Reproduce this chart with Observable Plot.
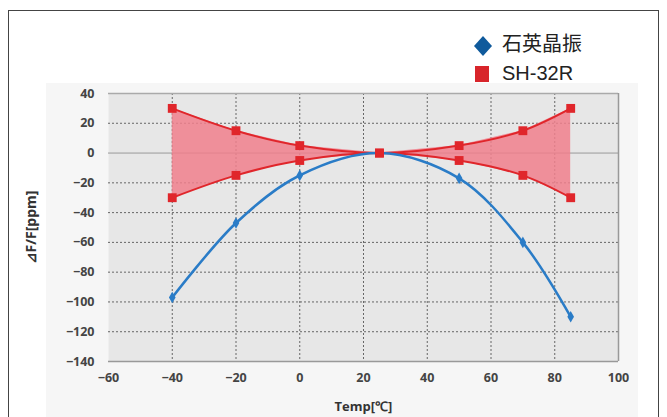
<!DOCTYPE html>
<html><head><meta charset="utf-8">
<script src="https://cdn.jsdelivr.net/npm/d3@7"></script>
<script src="https://cdn.jsdelivr.net/npm/@observablehq/plot@0.6"></script>
<style>
body{margin:0;background:#fff;}
#wrap{position:relative;width:667px;height:417px;overflow:hidden;}
#border{position:absolute;left:8px;top:10px;width:651px;height:430px;border:1.5px solid #444;box-sizing:border-box;}
#panel{position:absolute;left:46px;top:83px;width:592px;height:334px;background:#f6f6f6;}
#chart{position:absolute;left:0;top:0;}
.leg{position:absolute;font-size:20px;color:#222;line-height:1;}
</style></head>
<body>
<div id="wrap">
<div id="border"></div>
<div id="panel"></div>
<div id="chart"></div>
<svg style="position:absolute;left:472px;top:35px" width="22" height="22"><path d="M11 1 L20 11 L11 21 L2 11 Z" fill="#0f5a9c"/></svg>
<div class="leg" style="left:502px;top:33px;font-family:'Noto Sans CJK SC';">石英晶振</div>
<div style="position:absolute;left:475px;top:66px;width:14px;height:16px;background:#d8252b"></div>
<div class="leg" style="left:502px;top:63px;font-family:'Liberation Sans',Arial;">SH-32R</div>
</div>
<script>
const temps = [-40, -20, 0, 25, 50, 70, 85];
const shUpper = [30, 15, 5, 0, 5, 15, 30];
const shLower = [-30, -15, -5, 0, -5, -15, -30];
const quartz = [-97, -47, -15, 0, -17, -60, -110];
const xTicks = [-60, -40, -20, 0, 20, 40, 60, 80, 100];
const yTicks = [40, 20, 0, -20, -40, -60, -80, -100, -120, -140];

const sh = temps.map((t, i) => ({t, hi: shUpper[i], lo: shLower[i]}));
const qz = temps.map((t, i) => ({t, v: quartz[i]}));
const qzMarkers = qz.filter(d => d.t !== 25);

const red = "#e0262b", blue = "#2a7cc7";
const chart = Plot.plot({
  width: 667, height: 417,
  marginLeft: 108, marginRight: 49, marginTop: 93, marginBottom: 56,
  style: {background: "transparent", fontFamily: "'Open Sans', sans-serif", fontSize: "12.5px", fontWeight: "bold", color: "#444"},
  x: {domain: [-60, 100], ticks: xTicks, tickSize: 0, tickPadding: 12, label: null},
  y: {domain: [-140, 40], ticks: yTicks, tickSize: 0, tickPadding: 14, label: null},
  marks: [
    Plot.frame({fill: "#e7e7e7", stroke: "none"}),
    Plot.ruleY(yTicks.filter(d => d !== 0 && d !== -140 && d !== 40), {stroke: "#666", strokeDasharray: "2,2", strokeWidth: 1}),
    Plot.ruleX(xTicks.filter(d => d !== -60 && d !== 100), {stroke: "#666", strokeDasharray: "2,2", strokeWidth: 1}),
    Plot.ruleY([0], {stroke: "#999", strokeWidth: 1}),
    Plot.ruleY([40], {stroke: "#aaa", strokeWidth: 1.5}),
    Plot.ruleY([-140], {stroke: "#999", strokeWidth: 1.5}),
    Plot.ruleX([100], {stroke: "#999", strokeWidth: 1.5}),
    Plot.areaY(sh, {x: "t", y1: "lo", y2: "hi", fill: "#f07f8c", fillOpacity: 0.85}),
    Plot.line(sh, {x: "t", y: "hi", stroke: red, strokeWidth: 2, curve: "catmull-rom"}),
    Plot.line(sh, {x: "t", y: "lo", stroke: red, strokeWidth: 2, curve: "catmull-rom"}),
    Plot.line(qz, {x: "t", y: "v", stroke: blue, strokeWidth: 2.5, curve: "catmull-rom"}),
    Plot.dot(qzMarkers, {x: "t", y: "v", symbol: "diamond", r: 3.5, fill: blue}),
    Plot.dot(sh, {x: "t", y: "hi", symbol: "square", r: 5, fill: red}),
    Plot.dot(sh, {x: "t", y: "lo", symbol: "square", r: 5, fill: red}),
    Plot.axisX({ticks: xTicks, tickSize: 0, tickPadding: 12, label: null, fill: "#444"}),
    Plot.axisY({ticks: yTicks, tickSize: 0, tickPadding: 14, label: null, fill: "#444"}),
    Plot.text(["Temp[℃]"], {frameAnchor: "bottom", dy: 49, fontSize: 13, fontWeight: "bold", fill: "#333"}),
    Plot.text(["⊿F/F[ppm]"], {frameAnchor: "left", dx: -77, rotate: -90, textAnchor: "middle", fontSize: 14, fontWeight: "bold", fill: "#333"})
  ]
});
document.getElementById("chart").append(chart);
</script>
</body></html>
